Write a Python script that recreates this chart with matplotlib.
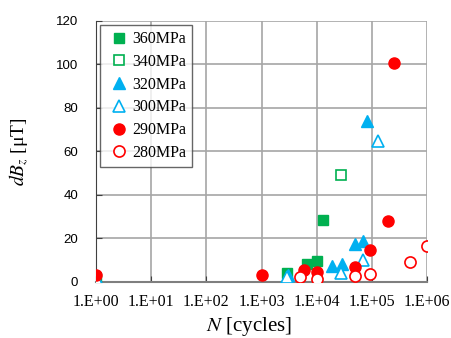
import numpy as np
import matplotlib.pyplot as plt
from matplotlib.ticker import FixedLocator, FuncFormatter, NullLocator

plt.rcParams['font.family'] = 'Liberation Serif'
plt.rcParams['mathtext.fontset'] = 'stix'

# données
n_360 = [1, 2.9e3, 6.6e3, 1.0e4, 1.3e4]
b_360 = [2, 4, 8.5, 9.5, 28.5]
n_340 = [1, 2.8e4]
b_340 = [2, 49]
n_320 = [1, 3.0e3, 1.9e4, 2.9e4, 5.0e4, 6.9e4, 8.1e4]
b_320 = [2, 3, 7.4, 8.2, 17.5, 19, 74]
n_300 = [1, 2.9e3, 2.8e4, 6.9e4, 1.3e5]
b_300 = [2, 2.5, 4, 10, 65]
n_290 = [1, 1e3, 5.8e3, 1.0e4, 5.0e4, 9.3e4, 1.95e5, 2.5e5]
b_290 = [3, 3, 5.5, 4.5, 7, 14.7, 28.2, 100.5]
n_280 = [4.9e3, 1.0e4, 5.0e4, 9.3e4, 4.9e5, 9.8e5]
b_280 = [2.5, 1.2, 2.8, 3.7, 9, 16.7]

x_ticks = [1e0, 1e1, 1e2, 1e3, 1e4, 1e5, 1e6]
y_ticks = [0, 20, 40, 60, 80, 100, 120]

green = '#00B050'
blue = '#00B0F0'
red = '#FF0000'

fig = plt.figure(figsize=(4.52, 3.38), dpi=100)
ax = fig.add_axes([0.2124, 0.1657, 0.7323, 0.7722])

ms = 7.2
ax.plot(n_360, b_360, 's', color=green, ms=ms, ls='none', label='360MPa', zorder=3)
ax.plot(n_340, b_340, 's', mfc='white', mec=green, mew=1.2, ms=ms, ls='none', label='340MPa', zorder=3)
ax.plot(n_320, b_320, '^', color=blue, ms=ms + 1, ls='none', label='320MPa', zorder=3)
ax.plot(n_300, b_300, '^', mfc='white', mec=blue, mew=1.2, ms=ms + 1, ls='none', label='300MPa', zorder=3)
ax.plot(n_290, b_290, 'o', color=red, ms=ms + 0.8, ls='none', label='290MPa', zorder=3)
ax.plot(n_280, b_280, 'o', mfc='white', mec=red, mew=1.2, ms=ms + 0.8, ls='none', label='280MPa', zorder=3)

ax.set_xscale('log')
ax.set_xlim(1e0, 1e6)
ax.set_ylim(0, 120)
ax.xaxis.set_major_locator(FixedLocator(x_ticks))
ax.xaxis.set_minor_locator(NullLocator())
ax.xaxis.set_major_formatter(FuncFormatter(lambda v, p: '1.E+%02d' % int(round(np.log10(v)))))
ax.set_yticks(y_ticks)

ax.grid(True, color='#A6A6A6', lw=1.2)
ax.set_axisbelow(True)
for s in ['top', 'right']:
    ax.spines[s].set_visible(False)
ax.spines['left'].set_color('#404040')
ax.spines['bottom'].set_color('#7F7F7F')
ax.spines['bottom'].set_linewidth(1.5)
ax.tick_params(direction='in', length=4, color='#404040')
ax.tick_params(axis='x', labelsize=11.5, pad=9)
ax.tick_params(axis='y', labelsize=9.5, pad=13)
plt.setp(ax.get_yticklabels(), family='Liberation Sans')

ax.set_xlabel('$N$ [cycles]', fontsize=15)
ax.xaxis.set_label_coords(0.462, -0.125)
ax.set_ylabel('$dB_z$ [μT]', fontsize=14)
ax.yaxis.set_label_coords(-0.196, 0.5)

leg = ax.legend(loc='upper left', bbox_to_anchor=(0.012, 0.985), frameon=True, fancybox=False,
                edgecolor='#404040', fontsize=11.5, handletextpad=0.0, handlelength=1.6,
                labelspacing=0.42, borderpad=0.4, borderaxespad=0.0)
leg.get_frame().set_linewidth(1.0)

fig.savefig('out.png', dpi=100)
